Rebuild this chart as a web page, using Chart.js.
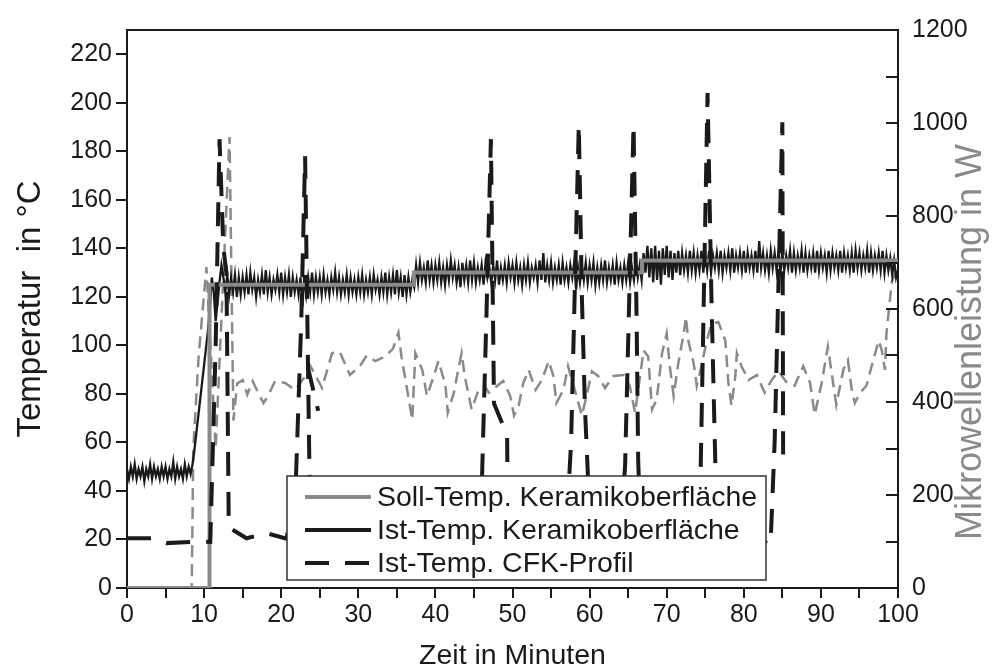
<!DOCTYPE html>
<html>
<head>
<meta charset="utf-8">
<script src="https://cdn.jsdelivr.net/npm/chart.js@4.4.1/dist/chart.umd.min.js"></script>
<style>
  html, body { margin: 0; padding: 0; background: #fff; }
  #chart { display: block; }
</style>
</head>
<body>
<canvas id="chart" width="1002" height="671"></canvas>
<script>
//---------------------------------------------
// DATA
//---------------------------------------------
const xTicks = [0, 10, 20, 30, 40, 50, 60, 70, 80, 90, 100];

// Soll-Temp. Keramikoberfläche (°C)
const sollTime = [0, 10.7, 10.7, 37.2, 37.2, 66.8, 66.8, 100];
const sollTemp = [0, 0, 125, 125, 130, 130, 135, 135];

// Ist-Temp. Keramikoberfläche (°C), one value every quarter minute, 0 .. 100 (one row = 5 min)
const istStep = 0.25;
const istTemp = [
    49,45,50,46,51,45,49,46,50,44,49,46,51,45,50,46,49,45,50,46,
    50,45,49,46,52,45,50,46,49,45,51,46,50,47,51,57,64,71,78,85,
    92,99,106,115,128,122,110,118,126,133,128,122,129,121,128,122,129,120,128,121,
    128,122,129,121,130,123,128,120,127,122,129,121,131,122,128,121,127,123,129,122,
    130,121,128,122,129,120,128,122,127,121,128,116,129,121,128,122,130,121,128,122,
    128,121,129,122,127,121,128,123,130,122,128,121,127,122,129,121,128,122,127,121,
    128,122,129,121,127,122,128,121,129,123,127,121,128,122,130,121,128,122,129,121,
    131,122,128,120,129,121,128,122,127,124,133,126,134,127,132,126,135,127,133,126,
    133,127,134,126,132,125,133,127,135,128,133,126,132,124,134,127,133,126,135,127,
    134,126,132,127,133,125,134,128,132,126,133,127,135,125,132,127,133,126,134,128,
    133,126,134,127,132,125,133,127,134,126,132,128,133,126,135,127,138,126,133,127,
    134,126,132,127,133,125,134,127,132,126,133,128,134,123,132,126,133,127,134,126,
    133,127,134,125,132,126,133,127,135,126,132,127,133,125,134,127,132,126,133,127,
    134,126,132,127,135,128,133,127,138,130,141,128,140,126,141,127,139,125,140,129,
    141,128,139,127,138,130,139,129,138,131,137,130,139,131,138,130,137,131,139,130,
    138,131,139,130,137,132,138,131,139,130,137,132,138,131,140,130,137,132,138,131,
    139,130,138,132,137,131,139,130,143,132,138,131,137,130,139,132,138,131,139,130,
    138,131,137,132,139,130,138,131,137,132,139,130,138,131,137,132,138,130,139,131,
    138,132,137,130,139,131,138,132,137,131,139,130,138,132,137,131,138,130,139,132,
    138,131,137,132,139,130,138,131,137,132,138,131,139,130,137,131,136,129,135,128,
    131
];

// Ist-Temp. CFK-Profil (°C); null breaks the line, the last piece is a short extra stroke
const cfkTime = [0, 3.4, 5.1, 9.4, 10.8, 11.5, 12.0, 12.5, 12.9, 13.2,
    15.5, 18.1, 20.7, 21.9, 22.6, 23.1, 23.7, 24.5, 30, 35,
    40, 45, 46.0, 46.6, 47.2, 47.6, 49.3, 49.4, 52, 57.0,
    57.6, 58.6, 59.0, 59.4, 59.8, 60.5, 64.0, 64.6, 65.7, 66.1,
    66.3, 66.6, 70, 73.8, 74.4, 75.3, 75.8, 76.3, 76.8, 80,
    82.8, 83.2, 83.5, 84.0, 85.0, 85.1, 85.1, 23.45, 24.8];
const cfkTemp = [20.5, 20.5, 18.5, 19.2, 19, 100, 185, 140, 130, 25,
    20.5, 22.6, 20.3, 44, 110, 178, 40, 21, 23, 21,
    24, 22, 40, 110, 185, 76, 63, 30, 21, 25,
    60, 191, 120, 74, 45, 22, 24, 50, 191, 110,
    53, 25, 22, 22, 48, 204, 120, 52, 22, 20,
    19, 22, 20.5, 60, 192, 55, null, 91, 73];

// Mikrowellenleistung (W), right axis
const powerTime = [0, 8.3, 8.4, 8.6, 9.3, 10.3, 11.5, 13.3, 13.8, 14.3,
    15.0, 15.6, 16.3, 17.0, 17.7, 18.3, 19.2, 20.5, 21.8, 23.1,
    23.8, 25.3, 26.6, 27.6, 28.9, 30.2, 31.1, 32.2, 33.5, 34.5,
    35.2, 35.6, 36.4, 37.0, 37.4, 38.3, 38.9, 39.8, 40.4, 41.3,
    41.6, 42.4, 43.0, 43.4, 43.8, 44.7, 45.6, 46.4, 46.9, 48.8,
    49.7, 50.2, 50.8, 51.4, 52.1, 53.0, 53.8, 54.7, 55.3, 55.7,
    56.6, 57.2, 58.3, 59.0, 59.6, 60.3, 61.1, 62.0, 63.1, 64.4,
    65.2, 65.9, 67.0, 67.6, 68.1, 68.7, 69.4, 70.0, 70.4, 70.9,
    71.5, 72.2, 72.5, 72.8, 73.5, 73.9, 74.5, 75.2, 75.8, 76.7,
    77.6, 78.0, 78.4, 78.9, 79.1, 79.7, 80.6, 81.7, 82.7, 83.6,
    84.5, 85.6, 86.6, 87.7, 88.6, 89.2, 90.1, 90.9, 91.4, 92.0,
    92.9, 93.5, 94.0, 94.4, 95.1, 95.9, 96.8, 97.5, 97.9, 98.3,
    98.5, 99.2, 100];
const powerWatt = [0, 0, 5, 300, 500, 690, 300, 970, 360, 440,
    447, 416, 445, 420, 398, 413, 445, 441, 426, 455,
    477, 430, 505, 508, 458, 477, 500, 488, 498, 515,
    549, 498, 420, 362, 505, 469, 413, 456, 488, 437,
    377, 420, 473, 505, 456, 384, 426, 435, 420, 445,
    413, 371, 392, 441, 469, 426, 447, 488, 456, 398,
    426, 477, 413, 371, 413, 466, 456, 430, 456, 458,
    435, 377, 511, 498, 384, 405, 505, 547, 477, 413,
    483, 547, 583, 532, 483, 435, 477, 532, 568, 572,
    532, 441, 392, 456, 505, 477, 447, 458, 420, 447,
    466, 441, 435, 477, 441, 373, 441, 519, 462, 394,
    469, 490, 426, 398, 420, 435, 490, 532, 511, 469,
    547, 659, 690];

//---------------------------------------------
// HELPERS
//---------------------------------------------
const FONT = "'Liberation Sans', Arial, Helvetica, sans-serif";
const BLACK = "#1a1a1a";
const GREY = "#8a8a8a";

function toPoints(xs, ys) {
    return xs.map((x, i) => ({ x: x, y: ys[i] }));
}

const istPoints = istTemp.map((v, i) => ({ x: i * istStep, y: v }));

//---------------------------------------------
// FRAME, INWARD TICKS, RIGHT TITLE AND LEGEND BOX
//---------------------------------------------
const framePlugin = {
    id: "frame",
    afterDraw(chart) {
        const ctx = chart.ctx;
        const area = chart.chartArea;
        const yL = chart.scales.y;
        const yR = chart.scales.y2;
        ctx.save();

        // top border
        ctx.strokeStyle = BLACK;
        ctx.lineWidth = 2;
        ctx.beginPath();
        ctx.moveTo(area.left, area.top);
        ctx.lineTo(area.right, area.top);
        ctx.stroke();

        // left ticks: major every 20, minor every 10, pointing out
        yL.ticks.forEach(t => {
            const py = Math.round(yL.getPixelForValue(t.value));
            const len = t.value % 20 === 0 ? 11 : 7;
            ctx.beginPath();
            ctx.moveTo(area.left - len, py);
            ctx.lineTo(area.left, py);
            ctx.stroke();
        });

        // right ticks point into the plot
        yR.ticks.forEach(t => {
            const py = Math.round(yR.getPixelForValue(t.value));
            ctx.beginPath();
            ctx.moveTo(area.right - 12, py);
            ctx.lineTo(area.right, py);
            ctx.stroke();
        });

        // right axis title, read bottom to top
        ctx.save();
        ctx.translate(971, 342);
        ctx.rotate(-Math.PI / 2);
        ctx.font = "36px " + FONT;
        ctx.fillStyle = GREY;
        ctx.textAlign = "center";
        ctx.textBaseline = "middle";
        ctx.fillText("Mikrowellenleistung in W", 0, 0);
        ctx.restore();

        // legend box
        const bx = 287, by = 476, bw = 479, bh = 104;
        ctx.fillStyle = "#ffffff";
        ctx.fillRect(bx, by, bw, bh);
        ctx.strokeStyle = "#333333";
        ctx.lineWidth = 1.5;
        ctx.strokeRect(bx, by, bw, bh);

        const ds = chart.data.datasets;
        const order = [ds[1], ds[2], ds[0]]; // Soll, Ist, CFK
        ctx.font = "28.5px " + FONT;
        ctx.textBaseline = "middle";
        order.forEach((d, i) => {
            const ly = 497 + i * 33;
            ctx.strokeStyle = d.borderColor;
            ctx.lineWidth = d.legendWidth;
            ctx.setLineDash(d.borderDash || []);
            ctx.beginPath();
            ctx.moveTo(305, ly);
            ctx.lineTo(371, ly);
            ctx.stroke();
            ctx.setLineDash([]);
            ctx.fillStyle = BLACK;
            ctx.fillText(d.label, 377, ly + 1);
        });
        ctx.restore();
    }
};

//---------------------------------------------
// CHART
//---------------------------------------------
const ctx = document.getElementById("chart").getContext("2d");

new Chart(ctx, {
    type: "line",
    data: {
        datasets: [
            {
                label: "Ist-Temp. CFK-Profil",
                data: toPoints(cfkTime, cfkTemp),
                borderColor: BLACK,
                borderWidth: 4,
                legendWidth: 4,
                borderDash: [24, 16],
                yAxisID: "y"
            },
            {
                label: "Soll-Temp. Keramikoberfläche",
                data: toPoints(sollTime, sollTemp),
                borderColor: GREY,
                borderWidth: 4,
                legendWidth: 4,
                yAxisID: "y"
            },
            {
                label: "Ist-Temp. Keramikoberfläche",
                data: istPoints,
                borderColor: BLACK,
                borderWidth: 2.3,
                legendWidth: 4,
                yAxisID: "y"
            },
            {
                label: "Mikrowellenleistung",
                data: toPoints(powerTime, powerWatt),
                borderColor: GREY,
                borderWidth: 2.5,
                legendWidth: 2.5,
                borderDash: [12, 7],
                yAxisID: "y2"
            }
        ]
    },
    options: {
        responsive: false,
        animation: false,
        devicePixelRatio: 1,
        spanGaps: false,
        elements: { point: { radius: 0 }, line: { tension: 0, fill: false } },
        layout: { padding: { top: 22, left: 0, right: 0, bottom: 0 } },
        plugins: { legend: { display: false }, tooltip: { enabled: false } },
        scales: {
            x: {
                type: "linear",
                min: 0,
                max: 100,
                afterFit: s => { s.height = 83; },
                afterBuildTicks: s => { s.ticks = [0,5,10,15,20,25,30,35,40,45,50,55,60,65,70,75,80,85,90,95,100].map(v => ({ value: v })); },
                ticks: {
                    autoSkip: false,
                    maxRotation: 0,
                    padding: 2,
                    color: BLACK,
                    font: { family: FONT, size: 25 },
                    callback: v => (xTicks.includes(v) ? v : "")
                },
                grid: { drawOnChartArea: false, drawTicks: true, tickLength: 10, tickColor: BLACK, lineWidth: 2 },
                border: { color: BLACK, width: 2 },
                title: {
                    display: true,
                    text: "Zeit in Minuten",
                    color: BLACK,
                    font: { family: FONT, size: 28.5 },
                    padding: { top: 0, bottom: -2 }
                }
            },
            y: {
                position: "left",
                min: 0,
                max: 230,
                afterFit: s => { s.width = 127; },
                ticks: {
                    stepSize: 10,
                    padding: 15,
                    color: BLACK,
                    font: { family: FONT, size: 25 },
                    callback: v => (v % 20 === 0 && v <= 220 ? v : "")
                },
                grid: { drawOnChartArea: false, drawTicks: false },
                border: { color: BLACK, width: 2 },
                title: {
                    display: true,
                    text: "Temperatur  in °C",
                    color: BLACK,
                    font: { family: FONT, size: 33 },
                    padding: { top: 11, bottom: 0 }
                }
            },
            y2: {
                position: "right",
                min: 0,
                max: 1200,
                afterFit: s => { s.width = 104; },
                ticks: {
                    stepSize: 100,
                    padding: 14,
                    color: BLACK,
                    font: { family: FONT, size: 25 },
                    callback: v => (v % 200 === 0 ? v : "")
                },
                grid: { drawOnChartArea: false, drawTicks: false },
                border: { color: BLACK, width: 2 }
            }
        }
    },
    plugins: [framePlugin]
});
</script>
</body>
</html>
